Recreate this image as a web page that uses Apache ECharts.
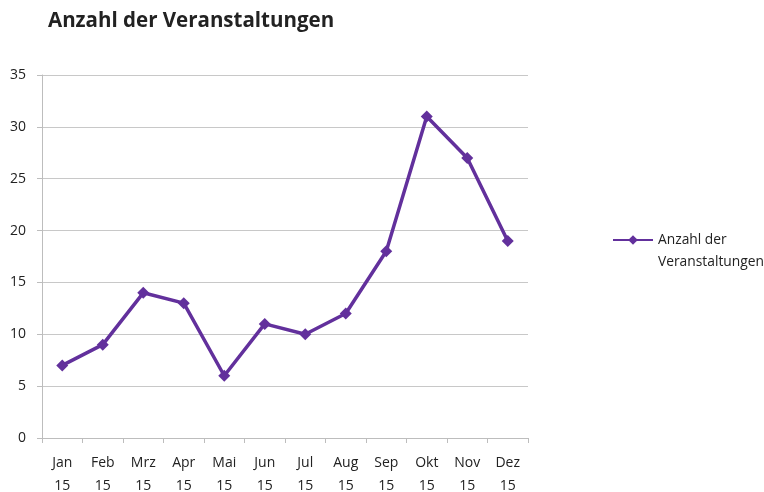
<!DOCTYPE html>
<html>
<head>
<meta charset="utf-8">
<script src="https://cdn.jsdelivr.net/npm/echarts@6/dist/echarts.min.js"></script>
<style>
  html, body { margin: 0; padding: 0; background: #fff; }
  #chart { width: 764px; height: 492px; }
</style>
</head>
<body>
<div id="chart"></div>
<script>
var months = ['Jan\n15', 'Feb\n15', 'Mrz\n15', 'Apr\n15', 'Mai\n15', 'Jun\n15',
  'Jul\n15', 'Aug\n15', 'Sep\n15', 'Okt\n15', 'Nov\n15', 'Dez\n15'];
var veranstaltungen = [7, 9, 14, 13, 6, 11, 10, 12, 18, 31, 27, 19];
var seriesName = 'Anzahl der Veranstaltungen';

var purple = '#62309c';
var fontFam = '"Open Sans", "Noto Sans", sans-serif';

var myChart = echarts.init(document.getElementById('chart'));
var options = {
  animation: false,
  backgroundColor: '#fff',
  textStyle: { fontFamily: fontFam },
  title: {
    text: 'Anzahl der Veranstaltungen',
    left: 43,
    top: 6,
    textStyle: { fontSize: 20.5, fontWeight: 'bold', color: '#222', fontFamily: fontFam }
  },
  grid: { left: 42, right: 236, top: 75, bottom: 54, outerBoundsMode: 'none', containLabel: false },
  legend: {
    data: [seriesName],
    orient: 'vertical',
    left: 612,
    top: 207,
    padding: 0,
    itemWidth: 40,
    itemHeight: 12,
    formatter: function() { return '\u00a0\nAnzahl der\nVeranstaltungen'; },
    textStyle: { fontSize: 13.8, color: '#222', lineHeight: 22 }
  },
  xAxis: {
    type: 'category',
    data: months,
    boundaryGap: true,
    axisLine: { lineStyle: { color: '#bdbdbd', width: 1 } },
    axisTick: { show: true, length: 5, alignWithLabel: false, lineStyle: { color: '#bdbdbd' } },
    axisLabel: { color: '#222', fontSize: 14, lineHeight: 23, margin: 14, interval: 0 }
  },
  yAxis: {
    type: 'value',
    min: 0,
    max: 35,
    interval: 5,
    axisLine: { show: true, lineStyle: { color: '#bdbdbd', width: 1 } },
    axisTick: { show: true, length: 5, lineStyle: { color: '#bdbdbd' } },
    axisLabel: { color: '#222', fontSize: 14, margin: 16 },
    splitLine: { lineStyle: { color: '#c8c8c8', width: 1 } }
  },
  series: [{
    name: seriesName,
    type: 'line',
    data: veranstaltungen,
    symbol: 'diamond',
    symbolSize: 12,
    lineStyle: { color: purple, width: 3.5 },
    itemStyle: { color: purple }
  }]
};
myChart.setOption(options, true);
</script>
</body>
</html>
